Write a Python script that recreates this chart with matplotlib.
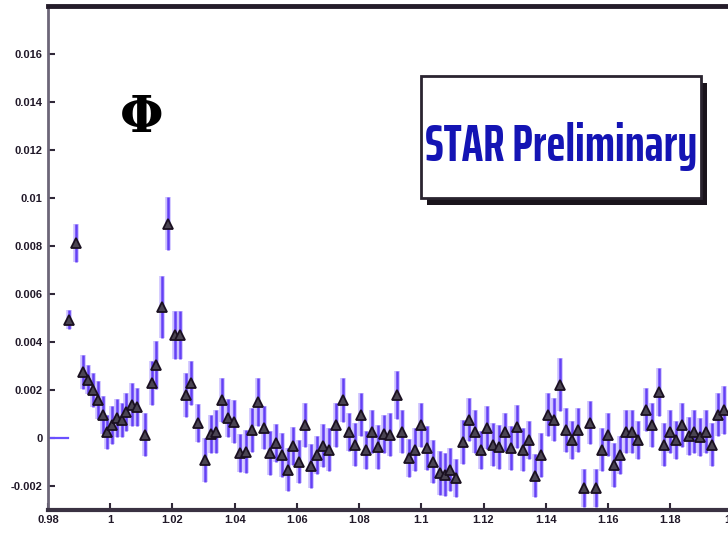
import numpy as np
import matplotlib
matplotlib.use("Agg")
import matplotlib.pyplot as plt
from matplotlib.patches import Rectangle

# invariant mass of K+K- pairs (GeV/c^2)
mass = [0.9868, 0.9891, 0.9913, 0.9929, 0.9945, 0.9961, 0.9977, 0.9990, 1.0006, 1.0023,
        1.0039, 1.0051, 1.0071, 1.0087, 1.0113, 1.0135, 1.0148, 1.0167, 1.0186, 1.0209,
        1.0225, 1.0244, 1.0260, 1.0283, 1.0305, 1.0325, 1.0341, 1.0360, 1.0379, 1.0399,
        1.0418, 1.0437, 1.0457, 1.0476, 1.0495, 1.0514, 1.0534, 1.0553, 1.0572, 1.0588,
        1.0608, 1.0627, 1.0646, 1.0666, 1.0685, 1.0704, 1.0727, 1.0749, 1.0768, 1.0788,
        1.0807, 1.0823, 1.0842, 1.0862, 1.0881, 1.0900, 1.0923, 1.0939, 1.0961, 1.0981,
        1.1000, 1.1019, 1.1039, 1.1061, 1.1077, 1.1093, 1.1113, 1.1135, 1.1154, 1.1174,
        1.1193, 1.1212, 1.1232, 1.1251, 1.1270, 1.1289, 1.1309, 1.1328, 1.1347, 1.1367,
        1.1386, 1.1408, 1.1428, 1.1447, 1.1466, 1.1486, 1.1505, 1.1524, 1.1543, 1.1563,
        1.1582, 1.1601, 1.1621, 1.1640, 1.1659, 1.1678, 1.1698, 1.1723, 1.1743, 1.1765,
        1.1781, 1.1801, 1.1820, 1.1839, 1.1859, 1.1878, 1.1897, 1.1916, 1.1936, 1.1955,
        1.1974]

counts = [0.00492, 0.00813, 0.00275, 0.00242, 0.00200, 0.00158, 0.00096, 0.00025, 0.00054, 0.00083,
          0.00075, 0.00108, 0.00138, 0.00129, 0.00013, 0.00229, 0.00304, 0.00546, 0.00892, 0.00429,
          0.00429, 0.00179, 0.00229, 0.00063, -0.00092, 0.00017, 0.00025, 0.00158, 0.00083, 0.00067,
          -0.00063, -0.00058, 0.00033, 0.00150, 0.00042, -0.00063, -0.00021, -0.00071, -0.00133, -0.00033,
          -0.00100, 0.00054, -0.00117, -0.00071, -0.00033, -0.00050, 0.00054, 0.00158, 0.00025, -0.00029,
          0.00096, -0.00050, 0.00025, -0.00038, 0.00017, 0.00013, 0.00179, 0.00025, -0.00083, -0.00050,
          0.00054, -0.00042, -0.00100, -0.00146, -0.00154, -0.00133, -0.00167, -0.00017, 0.00075, 0.00025,
          -0.00050, 0.00042, -0.00029, -0.00038, 0.00025, -0.00042, 0.00046, -0.00050, -0.00008, -0.00158,
          -0.00071, 0.00096, 0.00075, 0.00221, 0.00033, -0.00008, 0.00033, -0.00208, 0.00063, -0.00208,
          -0.00050, 0.00013, -0.00113, -0.00071, 0.00025, 0.00025, -0.00008, 0.00117, 0.00054, 0.00192,
          -0.00029, 0.00025, -0.00008, 0.00054, 0.00008, 0.00025, 0.00004, 0.00025, -0.00029, 0.00096,
          0.00117]

errors = [0.00040, 0.00080, 0.00070, 0.00060, 0.00070, 0.00080, 0.00080, 0.00070, 0.00080, 0.00080,
          0.00070, 0.00080, 0.00090, 0.00080, 0.00090, 0.00090, 0.00100, 0.00130, 0.00110, 0.00100,
          0.00100, 0.00090, 0.00090, 0.00080, 0.00090, 0.00080, 0.00090, 0.00090, 0.00080, 0.00090,
          0.00080, 0.00090, 0.00090, 0.00100, 0.00090, 0.00090, 0.00080, 0.00090, 0.00090, 0.00080,
          0.00090, 0.00090, 0.00090, 0.00080, 0.00090, 0.00090, 0.00090, 0.00090, 0.00080, 0.00090,
          0.00090, 0.00080, 0.00090, 0.00090, 0.00080, 0.00090, 0.00100, 0.00090, 0.00080, 0.00090,
          0.00090, 0.00090, 0.00090, 0.00090, 0.00090, 0.00090, 0.00080, 0.00090, 0.00090, 0.00090,
          0.00080, 0.00090, 0.00090, 0.00090, 0.00080, 0.00090, 0.00090, 0.00090, 0.00080, 0.00090,
          0.00090, 0.00090, 0.00090, 0.00110, 0.00090, 0.00080, 0.00090, 0.00080, 0.00090, 0.00080,
          0.00090, 0.00090, 0.00090, 0.00080, 0.00090, 0.00090, 0.00080, 0.00090, 0.00090, 0.00100,
          0.00090, 0.00090, 0.00080, 0.00090, 0.00080, 0.00090, 0.00080, 0.00090, 0.00090, 0.00090,
          0.00100]

x_ticks = [0.98, 1.0, 1.02, 1.04, 1.06, 1.08, 1.1, 1.12, 1.14, 1.16, 1.18, 1.2]
x_labels = ["0.98", "1", "1.02", "1.04", "1.06", "1.08", "1.1", "1.12", "1.14", "1.16", "1.18", "1.2"]
y_ticks = [-0.002, 0, 0.002, 0.004, 0.006, 0.008, 0.01, 0.012, 0.014, 0.016]
y_labels = ["-0.002", "0", "0.002", "0.004", "0.006", "0.008", "0.01", "0.012", "0.014", "0.016"]

threshold = 0.9865   # end of the short zero line at the left edge


def main():
    fig = plt.figure(figsize=(7.28, 5.43), dpi=100)
    ax = fig.add_axes([0.066, 0.061, 0.94, 0.928])

    # zero line before the K+K- threshold
    ax.plot([0.98, threshold], [0, 0], color="#6a50ff", lw=1.6)

    # pale halo + dark error bars, then triangles
    ax.errorbar(mass, counts, yerr=errors, fmt="none", ecolor="#cbbfff", elinewidth=4, capsize=0)
    ax.errorbar(mass, counts, yerr=errors, fmt="none", ecolor="#6440f5", elinewidth=1.8, capsize=0)
    ax.plot(mass, counts, linestyle="none", marker="^", markersize=7.5,
            markerfacecolor="#4a4452", markeredgecolor="#1a1020", markeredgewidth=1.3)

    ax.set_xlim(0.98, 1.2)
    ax.set_ylim(-0.003, 0.018)
    ax.set_xticks(x_ticks)
    ax.set_xticklabels(x_labels)
    ax.set_yticks(y_ticks)
    ax.set_yticklabels(y_labels)
    for lab in ax.get_xticklabels() + ax.get_yticklabels():
        lab.set_fontfamily("Liberation Sans")
        lab.set_fontweight("bold")
        lab.set_fontsize(8)
        lab.set_color("#201828")
    ax.tick_params(direction="in", length=5, width=1.5, color="#302838", pad=4)

    ax.spines["left"].set_color("#6c6678")
    ax.spines["left"].set_linewidth(2)
    ax.spines["bottom"].set_color("#3a3242")
    ax.spines["bottom"].set_linewidth(3)
    ax.spines["top"].set_color("#241c2a")
    ax.spines["top"].set_linewidth(3.5)
    ax.spines["right"].set_visible(False)

    # phi label
    ax.text(0.137, 0.776, "\u03a6", transform=ax.transAxes, fontsize=36,
            fontfamily="DejaVu Serif", fontweight="bold", color="black",
            ha="center", va="center")

    # STAR Preliminary box with drop shadow
    bx0, by0, bw, bh = 0.545, 0.619, 0.409, 0.242
    shadow = Rectangle((bx0 + 0.009, by0 - 0.013), bw, bh, transform=ax.transAxes,
                       facecolor="#1a141c", edgecolor="none", zorder=5)
    box = Rectangle((bx0, by0), bw, bh, transform=ax.transAxes,
                    facecolor="white", edgecolor="#2a2430", linewidth=2, zorder=6)
    ax.add_patch(shadow)
    ax.add_patch(box)
    star = ax.text(bx0 + bw / 2, by0 + bh / 2 - 0.018, "STAR Preliminary", transform=ax.transAxes,
                   fontsize=40, family=["Saira ExtraCondensed", "Asap Condensed", "DejaVu Sans"],
                   fontweight="bold", color="#1414b4", ha="center", va="center", zorder=7)

    # shrink the label so it spans the box like in the original (~272 px)
    renderer = fig.canvas.get_renderer()
    width = star.get_window_extent(renderer).width
    star.set_fontsize(40 * 272 / width)

    fig.savefig("out.png", dpi=100)


if __name__ == "__main__":
    main()
